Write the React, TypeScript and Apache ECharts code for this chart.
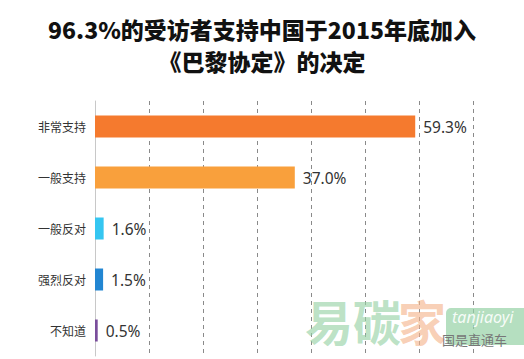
import React, { useEffect, useRef } from "react";
import * as echarts from "echarts";

const categories = ["非常支持", "一般支持", "一般反对", "强烈反对", "不知道"];
const values = [59.3, 37.0, 1.6, 1.5, 0.5];
const colors = ["#F57A2E", "#F9A03C", "#35C6F1", "#2286D2", "#7A4E9C"];
const titleLines = ["96.3%的受访者支持中国于2015年底加入", "《巴黎协定》的决定"];

export default function App() {
  const ref = useRef<HTMLDivElement>(null);
  useEffect(() => {
    if (!ref.current) return;
    const chart = echarts.init(ref.current, null, { renderer: "svg" });
    chart.setOption({
      animation: false,
      backgroundColor: "#ffffff",
      title: {
        text: titleLines.join("\n"),
        left: "center",
        top: 8,
        textStyle: {
          fontFamily: "Noto Sans CJK SC",
          fontSize: 23,
          fontWeight: 900,
          color: "#111",
          lineHeight: 32,
        },
      },
      grid: { left: 95, right: 51, top: 101, bottom: 3, containLabel: false },
      xAxis: {
        type: "value",
        min: 0,
        max: 70,
        interval: 10,
        axisLabel: { show: false },
        axisLine: { show: false },
        axisTick: { show: false },
        splitLine: { show: true, lineStyle: { type: [4, 4], color: "#8a8a8a", width: 1 } },
      },
      yAxis: {
        type: "category",
        inverse: true,
        data: categories,
        axisLine: { show: true, lineStyle: { color: "#c8c8c8" } },
        axisTick: { show: false },
        axisLabel: {
          margin: 9,
          fontFamily: "Noto Sans CJK SC",
          fontSize: 12,
          color: "#333",
        },
      },
      series: [
        {
          type: "bar",
          barWidth: 22,
          data: values.map((v, i) => ({ value: v, itemStyle: { color: colors[i] } })),
          label: {
            show: true,
            position: "right",
            distance: 8,
            fontFamily: "Noto Sans",
            fontSize: 15.5,
            color: "#333",
            formatter: (p: any) => Number(p.value).toFixed(1) + "%",
          },
        },
      ],
      graphic: [
        {
          type: "text",
          x: 305,
          y: 296,
          style: {
            text: "易碳",
            font: "bold 48px 'Noto Sans CJK SC'",
            fill: "rgba(150,210,165,0.65)",
          },
          z: 10,
        },
        {
          type: "text",
          x: 398,
          y: 296,
          style: {
            text: "家",
            font: "bold 48px 'Noto Sans CJK SC'",
            fill: "rgba(245,180,140,0.65)",
          },
          z: 10,
        },
        {
          type: "rect",
          shape: { x: 446, y: 308, width: 90, height: 37, r: 5 },
          style: { fill: "rgba(150,210,165,0.7)" },
          z: 10,
        },
        {
          type: "text",
          x: 452,
          y: 309,
          style: {
            text: "tanjiaoyi",
            font: "italic 16px 'Noto Sans'",
            fill: "rgba(255,255,255,0.9)",
          },
          z: 11,
        },
        {
          type: "text",
          x: 442,
          y: 333,
          style: {
            text: "国是直通车",
            font: "13px 'Noto Sans CJK SC'",
            fill: "#777",
          },
          z: 12,
        },
      ],
    });
    return () => chart.dispose();
  }, []);
  return (
    <div
      ref={ref}
      style={{ position: "fixed", left: 0, top: 0, width: 524, height: 359 }}
    />
  );
}
